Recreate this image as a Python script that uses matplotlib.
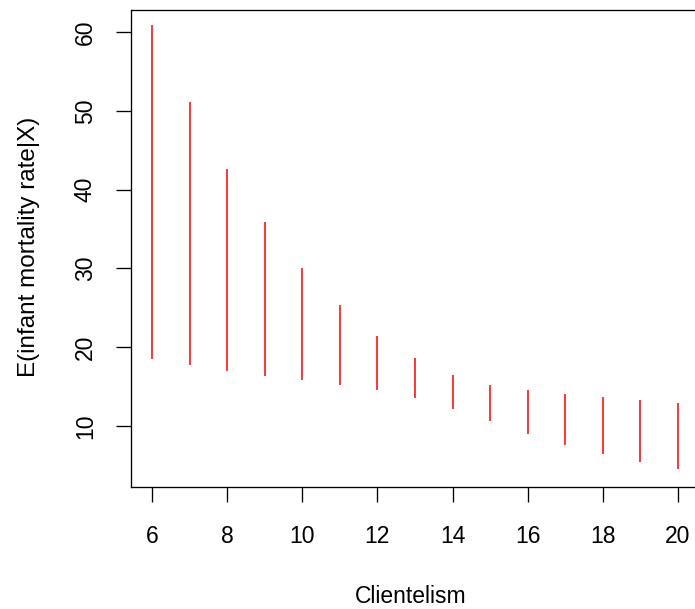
import matplotlib
matplotlib.use("Agg")
import matplotlib.pyplot as plt

# Data
clientelism = [6, 7, 8, 9, 10, 11, 12, 13, 14, 15, 16, 17, 18, 19, 20]
upper = [60.9, 51.1, 42.7, 35.9, 30.1, 25.3, 21.4, 18.6, 16.5, 15.2, 14.6, 14.1, 13.7, 13.3, 12.9]
lower = [18.5, 17.8, 17.0, 16.4, 15.8, 15.2, 14.5, 13.6, 12.2, 10.6, 9.0, 7.6, 6.4, 5.4, 4.5]
xticks = [6, 8, 10, 12, 14, 16, 18, 20]
yticks = [10, 20, 30, 40, 50, 60]

plt.rcParams['font.family'] = ['Liberation Sans', 'DejaVu Sans']
FS = 16.5

fig = plt.figure(figsize=(6.95, 6.09), dpi=100)
W, H = 695, 609
left, right, top, bottom = 131, 699, 9.5, 487
ax = fig.add_axes([left / W, 1 - bottom / H, (right - left) / W, (bottom - top) / H])

ax.vlines(clientelism, lower, upper, colors='#FF0000', linewidth=1.1)

ax.set_xlim(5.44, 20.56)
ax.set_ylim(2.24, 62.9)
ax.set_xticks(xticks)
ax.set_yticks(yticks)
ax.set_xticklabels([str(v) for v in xticks], fontsize=FS)
ax.set_yticklabels([str(v) for v in yticks], fontsize=FS, rotation=90, va='center')
ax.tick_params(axis='x', length=10.5, width=0.95, pad=17, color='black')
ax.tick_params(axis='y', length=10.5, width=0.95, pad=14, color='black')

for s in ax.spines.values():
    s.set_linewidth(0.95)
    s.set_color('black')

ax.set_xlabel('Clientelism', fontsize=FS)
ax.set_ylabel('E(infant mortality rate|X)', fontsize=17.5)
ax.xaxis.set_label_coords(0.493, (bottom - 585) / (bottom - top))
ax.yaxis.set_label_coords((40 - left) / (right - left), (bottom - 246.5) / (bottom - top))

fig.savefig('out.png', dpi=100)
